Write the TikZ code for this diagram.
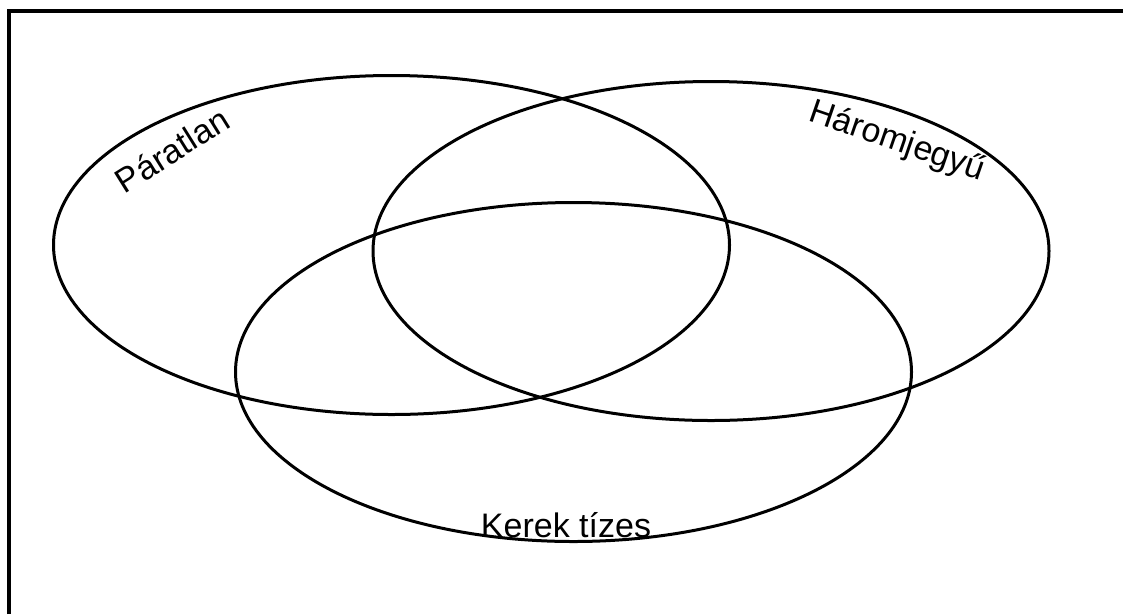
\documentclass[tikz,border=0pt]{standalone}
\usepackage{fontspec}
\setmainfont{Liberation Sans}
\usetikzlibrary{shapes.geometric}

\begin{document}
\begin{tikzpicture}[
		x=1pt,
		y=-1pt,
		venn/.style={
			draw,
			ellipse,
			line width=3pt,
			inner sep=0pt,
			outer sep=0pt,
			minimum width=676pt,
			minimum height=339pt
		},
		setlabel/.style={
			font=\fontsize{34}{40}\selectfont,
			inner sep=0pt
		}
		]
		
		%--------------------------------------------------
		% Frame
		%--------------------------------------------------
		
		\useasboundingbox (0,0) rectangle (1123,614);
		
		\draw[line width=3.2pt]
		(9,614) -- (9,11) -- (1123,11);
		
		%--------------------------------------------------
		% Sets
		%--------------------------------------------------
		
		\node[venn] (paratlan) at (391.5,245) {};
		
		\node[venn] (haromjegyu) at (711,251) {};
		
		\node[venn] (kerek) at (573.5,372) {};
		
		%--------------------------------------------------
		% Labels
		%--------------------------------------------------
		
		\node[setlabel,rotate=32] (lparatlan) at (172,150) {Páratlan};
		
		\node[setlabel,rotate=-19] (lharom) at (897,142) {Háromjegyű};
		
		\node[setlabel] (lkerek) at (566,525) {Kerek tízes};
		
	\end{tikzpicture}
\end{document}
